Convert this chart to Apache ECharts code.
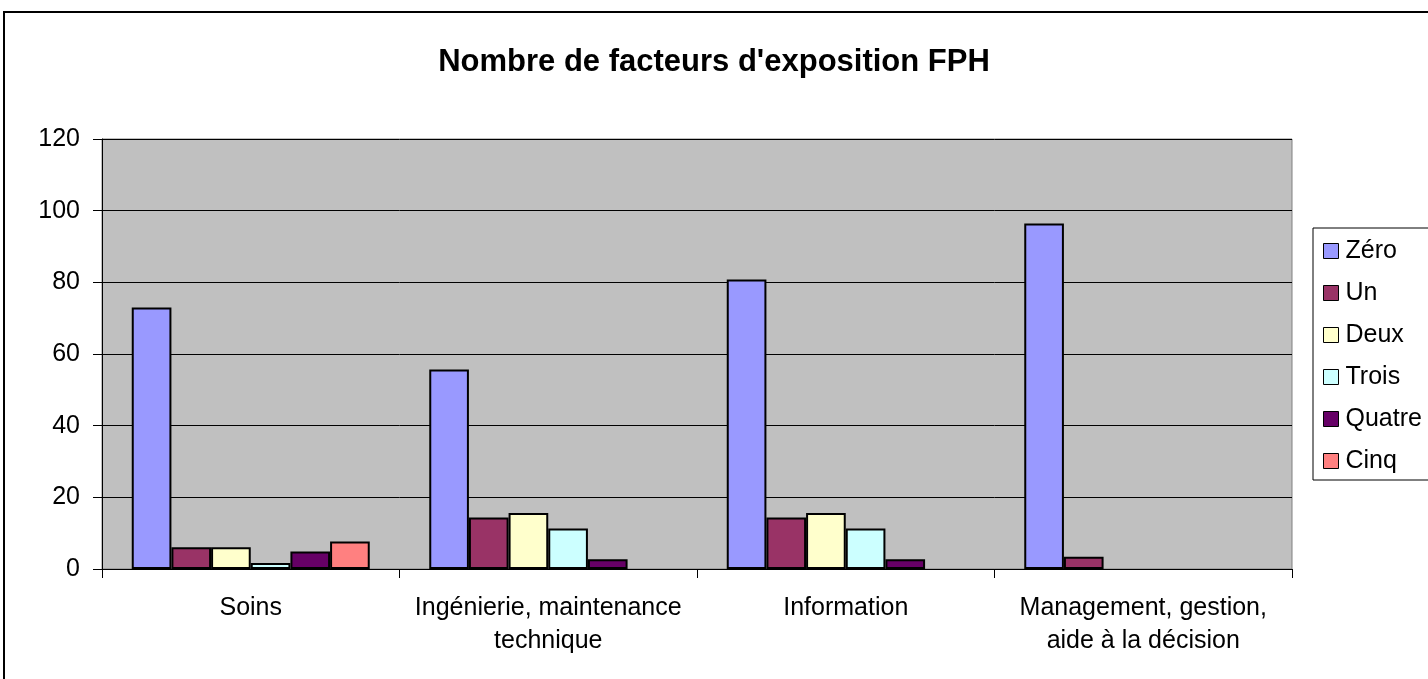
<!DOCTYPE html>
<html>
<head>
<meta charset="utf-8">
<script src="https://cdn.jsdelivr.net/npm/echarts@6/dist/echarts.min.js"></script>
<style>
  html, body { margin: 0; padding: 0; background: #fff; }
  #chart { width: 1428px; height: 679px; }
</style>
</head>
<body>
<div id="chart"></div>
<script>
// catégories et séries
const categories = ['Soins', 'Ingénierie, maintenance\ntechnique', 'Information', 'Management, gestion,\naide à la décision']
const seriesNames = ['Zéro', 'Un', 'Deux', 'Trois', 'Quatre', 'Cinq']
const zero = [73.0, 55.7, 80.8, 96.4]
const un = [6.1, 14.4, 14.4, 3.4]
const deux = [6.1, 15.6, 15.6, null]
const trois = [1.7, 11.3, 11.3, null]
const quatre = [4.9, 2.7, 2.7, null]
const cinq = [7.7, null, null, null]
const colors = ['#9999FF', '#993366', '#FFFFCC', '#CCFFFF', '#660066', '#FF8080']
const yTicks = [0, 20, 40, 60, 80, 100, 120]

const chart = echarts.init(document.getElementById('chart'))
const font = 'Liberation Sans, Arial, sans-serif'
const values = [zero, un, deux, trois, quatre, cinq]

const option = {
  animation: false,
  textStyle: { fontFamily: font },
  title: {
    text: "Nombre de facteurs d'exposition FPH",
    left: 'center',
    top: 42,
    textStyle: { fontSize: 31, fontWeight: 'bold', color: '#000', fontFamily: font }
  },
  graphic: [
    {
      // cadre extérieur
      type: 'rect',
      shape: { x: 4, y: 12, width: 1440, height: 700 },
      style: { fill: 'none', stroke: '#000', lineWidth: 2 },
      silent: true
    }
  ],
  legend: {
    data: seriesNames,
    orient: 'vertical',
    left: 1313,
    top: 228,
    padding: [9, 40, 5, 10],
    itemWidth: 15,
    itemHeight: 15,
    itemGap: 14,
    icon: 'rect',
    borderColor: '#000',
    borderWidth: 1,
    backgroundColor: '#fff',
    itemStyle: { borderColor: '#000', borderWidth: 1 },
    textStyle: { fontSize: 25, color: '#000', lineHeight: 28, padding: [0, 0, 0, 2] }
  },
  grid: {
    left: 102,
    right: 136,
    top: 139,
    bottom: 110,
    show: true,
    backgroundColor: '#C0C0C0',
    borderColor: '#808080',
    borderWidth: 1
  },
  xAxis: {
    type: 'category',
    data: categories,
    axisLine: { lineStyle: { color: '#000', width: 1 } },
    axisTick: { show: true, length: 9, lineStyle: { color: '#000' } },
    axisLabel: { fontSize: 25, color: '#000', margin: 23, lineHeight: 33, interval: 0 }
  },
  yAxis: {
    type: 'value',
    min: yTicks[0],
    max: yTicks[yTicks.length - 1],
    interval: yTicks[1] - yTicks[0],
    axisLine: { show: true, lineStyle: { color: '#000', width: 1 } },
    axisTick: { show: true, length: 9, lineStyle: { color: '#000' } },
    axisLabel: { fontSize: 25, color: '#000', margin: 22 },
    splitLine: { lineStyle: { color: '#000', width: 1 } }
  },
  series: seriesNames.map((name, i) => ({
    name,
    type: 'bar',
    data: values[i],
    barGap: '0%',
    barCategoryGap: '20%',
    itemStyle: { color: colors[i], borderColor: '#000', borderWidth: 2 }
  }))
}

chart.setOption(option)
</script>
</body>
</html>
